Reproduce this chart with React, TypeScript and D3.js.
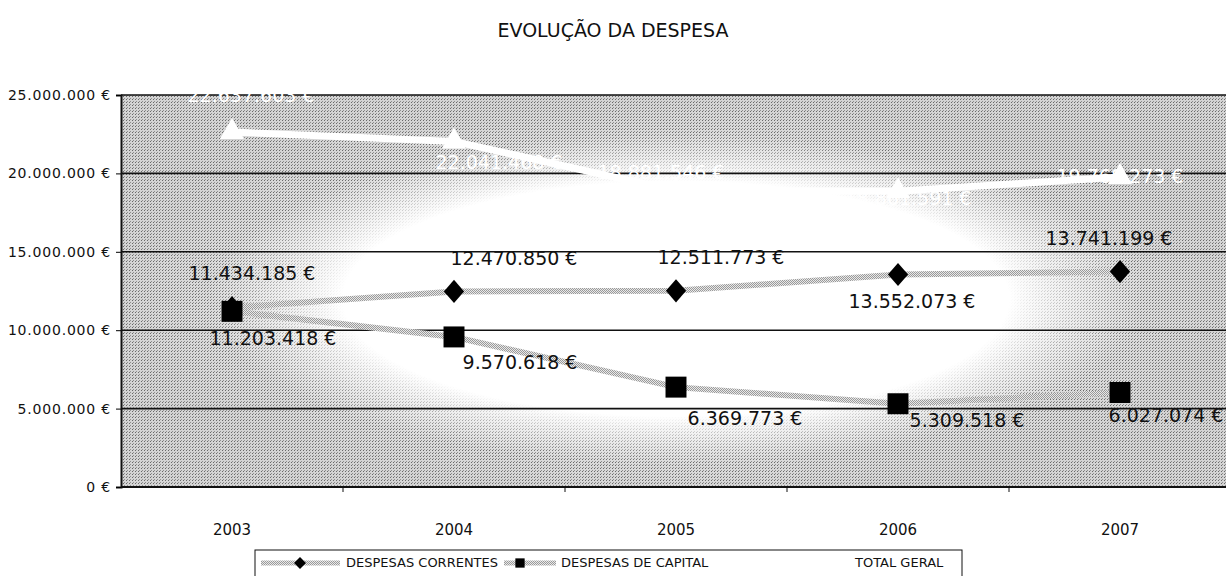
import { useEffect, useRef } from 'react';
import * as d3 from 'd3';

const years = ['2003', '2004', '2005', '2006', '2007'];
const correntes = [11434185, 12470850, 12511773, 13552073, 13741199];
const capital = [11203418, 9570618, 6369773, 5309518, 6027074];
const totalGeral = [22637603, 22041468, 18881546, 18861591, 19768273];
const yTicks = [0, 5000000, 10000000, 15000000, 20000000, 25000000];
const legendNames = ['DESPESAS CORRENTES', 'DESPESAS DE CAPITAL', 'TOTAL GERAL'];

// label offsets from the marker (the way they were dragged in the original)
const labelOffsets = {
  correntes: [[20, -33], [60, -32], [45, -32], [14, 28], [-11, -32]],
  capital: [[41, 28], [66, 27], [69, 32], [69, 18], [46, 24]],
  total: [[19, -36], [45, 22], [-15, -17], [10, 8], [0, 0]],
};

const fmt = (v: number) => d3.format(',')(v).replace(/,/g, '.') + ' €';

export default function App() {
  const svgRef = useRef<SVGSVGElement>(null);

  useEffect(() => {
    document.body.style.margin = '0';
    const svg = d3.select(svgRef.current);
    svg.selectAll('*').remove();

    const width = 1226;
    const height = 576;
    const plot = { left: 121, right: 1231, top: 95, bottom: 487 };
    const font = '"DejaVu Sans", sans-serif';

    const x = d3.scalePoint<string>()
      .domain(years)
      .range([plot.left, plot.right])
      .padding(0.5);
    const step = x.step();

    const y = d3.scaleLinear()
      .domain([0, 25000000])
      .range([plot.bottom, plot.top]);

    svg.attr('width', width).attr('height', height);

    const defs = svg.append('defs');

    const bg = defs.append('radialGradient').attr('id', 'bgGrad')
      .attr('cx', 0.5).attr('cy', 0.52).attr('r', 0.5);
    bg.append('stop').attr('offset', '0').attr('stop-color', '#ffffff');
    bg.append('stop').attr('offset', '0.6').attr('stop-color', '#ffffff');
    bg.append('stop').attr('offset', '0.84').attr('stop-color', '#dadada');
    bg.append('stop').attr('offset', '1').attr('stop-color', '#d4d4d4');

    const mg = defs.append('radialGradient').attr('id', 'maskGrad')
      .attr('cx', 0.5).attr('cy', 0.52).attr('r', 0.5);
    mg.append('stop').attr('offset', '0').attr('stop-color', '#000');
    mg.append('stop').attr('offset', '0.6').attr('stop-color', '#000');
    mg.append('stop').attr('offset', '0.84').attr('stop-color', '#fff');

    const mask = defs.append('mask').attr('id', 'dotMask');
    mask.append('rect')
      .attr('x', plot.left).attr('y', plot.top)
      .attr('width', plot.right - plot.left).attr('height', plot.bottom - plot.top)
      .attr('fill', 'url(#maskGrad)');

    const dots = defs.append('pattern').attr('id', 'dots')
      .attr('patternUnits', 'userSpaceOnUse').attr('width', 3).attr('height', 3);
    dots.append('rect').attr('x', 0).attr('y', 0).attr('width', 1).attr('height', 1).attr('fill', '#6a6a6a');
    dots.append('rect').attr('x', 1).attr('y', 2).attr('width', 1).attr('height', 1).attr('fill', '#909090');

    const checker = defs.append('pattern').attr('id', 'checker')
      .attr('patternUnits', 'userSpaceOnUse').attr('width', 2).attr('height', 2);
    checker.append('rect').attr('width', 2).attr('height', 2).attr('fill', '#e8e8e8');
    checker.append('rect').attr('x', 0).attr('y', 0).attr('width', 1).attr('height', 1).attr('fill', '#9a9a9a');
    checker.append('rect').attr('x', 1).attr('y', 1).attr('width', 1).attr('height', 1).attr('fill', '#9a9a9a');

    // title
    svg.append('text')
      .attr('x', 613).attr('y', 37)
      .attr('text-anchor', 'middle')
      .style('font-family', font).style('font-size', '19px')
      .attr('fill', '#111')
      .text('EVOLUÇÃO DA DESPESA');

    // plot background
    svg.append('rect')
      .attr('x', plot.left).attr('y', plot.top)
      .attr('width', plot.right - plot.left).attr('height', plot.bottom - plot.top)
      .attr('fill', 'url(#bgGrad)');
    svg.append('rect')
      .attr('x', plot.left).attr('y', plot.top)
      .attr('width', plot.right - plot.left).attr('height', plot.bottom - plot.top)
      .attr('fill', 'url(#dots)')
      .attr('mask', 'url(#dotMask)');

    // gridlines
    svg.append('g')
      .selectAll('line')
      .data(yTicks.filter(d => d > 0))
      .join('line')
      .attr('x1', plot.left).attr('x2', plot.right)
      .attr('y1', d => y(d)).attr('y2', d => y(d))
      .attr('stroke', '#111').attr('stroke-width', 1.6);

    // y axis
    const yAxis = svg.append('g')
      .attr('transform', `translate(${plot.left},0)`)
      .call(d3.axisLeft(y).tickValues(yTicks).tickSize(5).tickPadding(5).tickFormat(d => fmt(d as number)));
    yAxis.select('.domain').attr('stroke', '#111').attr('stroke-width', 2);
    yAxis.selectAll('text')
      .style('font-family', font).style('font-size', '14px')
      .attr('letter-spacing', '0.8').attr('fill', '#111');

    // x axis
    const xAxisG = svg.append('g').attr('transform', `translate(0,${plot.bottom})`);
    xAxisG.append('line')
      .attr('x1', plot.left).attr('x2', plot.right)
      .attr('stroke', '#111').attr('stroke-width', 2);
    xAxisG.selectAll('line.tick')
      .data(years.slice(1))
      .join('line')
      .attr('class', 'tick')
      .attr('x1', d => x(d)! - step / 2).attr('x2', d => x(d)! - step / 2)
      .attr('y1', 0).attr('y2', 5)
      .attr('stroke', '#111');
    xAxisG.selectAll('text')
      .data(years)
      .join('text')
      .attr('x', d => x(d)!)
      .attr('y', 48)
      .attr('text-anchor', 'middle')
      .style('font-family', font).style('font-size', '15px')
      .attr('fill', '#111')
      .text(d => d);

    const line = d3.line<number>()
      .x((_, i) => x(years[i])!)
      .y(d => y(d));

    // series lines
    svg.append('path').datum(totalGeral)
      .attr('d', line).attr('fill', 'none')
      .attr('stroke', '#fff').attr('stroke-width', 7);
    svg.append('path').datum(capital)
      .attr('d', line).attr('fill', 'none')
      .attr('stroke', 'url(#checker)').attr('stroke-width', 6);
    svg.append('path').datum(correntes)
      .attr('d', line).attr('fill', 'none')
      .attr('stroke', 'url(#checker)').attr('stroke-width', 6);

    const diamond = d3.symbol().type(d3.symbolDiamond2).size(260);
    const square = d3.symbol().type(d3.symbolSquare2).size(560);
    const triangle = d3.symbol().type(d3.symbolTriangle2).size(420);

    svg.append('g').selectAll('path')
      .data(totalGeral)
      .join('path')
      .attr('d', triangle)
      .attr('transform', (d, i) => `translate(${x(years[i])},${y(d)})`)
      .attr('fill', '#fff');

    svg.append('g').selectAll('path')
      .data(correntes)
      .join('path')
      .attr('d', diamond)
      .attr('transform', (d, i) => `translate(${x(years[i])},${y(d)}) scale(1.0,1.15)`)
      .attr('fill', '#000');

    svg.append('g').selectAll('path')
      .data(capital)
      .join('path')
      .attr('d', square)
      .attr('transform', (d, i) => `translate(${x(years[i])},${y(d)})`)
      .attr('fill', '#000');

    // data labels
    const addLabels = (values: number[], offs: number[][], color: string) => {
      svg.append('g').selectAll('text')
        .data(values)
        .join('text')
        .attr('x', (d, i) => x(years[i])! + offs[i][0])
        .attr('y', (d, i) => y(d) + offs[i][1])
        .attr('text-anchor', 'middle')
        .attr('dominant-baseline', 'middle')
        .style('font-family', font).style('font-size', '19px')
        .attr('fill', color)
        .text(d => fmt(d));
    };
    addLabels(totalGeral, labelOffsets.total, '#fff');
    addLabels(correntes, labelOffsets.correntes, '#111');
    addLabels(capital, labelOffsets.capital, '#111');

    // legend
    const legend = svg.append('g');
    legend.append('rect')
      .attr('x', 255).attr('y', 550).attr('width', 707).attr('height', 40)
      .attr('fill', '#fff').attr('stroke', '#111').attr('stroke-width', 1);

    const legendItems = [
      { name: legendNames[0], sx: 261, ex: 340, mx: 300, tx: 346, stroke: 'url(#checker)', marker: diamond, msize: 90, fill: '#000' },
      { name: legendNames[1], sx: 504, ex: 556, mx: 520, tx: 561, stroke: 'url(#checker)', marker: square, msize: 110, fill: '#000' },
      { name: legendNames[2], sx: 775, ex: 850, mx: 812, tx: 855, stroke: '#fff', marker: triangle, msize: 90, fill: '#fff' },
    ];
    legendItems.forEach(item => {
      legend.append('line')
        .attr('x1', item.sx).attr('x2', item.ex)
        .attr('y1', 563).attr('y2', 563)
        .attr('stroke', item.stroke).attr('stroke-width', 5);
      legend.append('path')
        .attr('d', item.marker.size(item.msize)())
        .attr('transform', `translate(${item.mx},563)`)
        .attr('fill', item.fill);
      legend.append('text')
        .attr('x', item.tx).attr('y', 563)
        .attr('dominant-baseline', 'middle')
        .style('font-family', font).style('font-size', '13px')
        .attr('fill', '#111')
        .text(item.name);
    });
  }, []);

  return <svg ref={svgRef} style={{ display: 'block' }}></svg>;
}
